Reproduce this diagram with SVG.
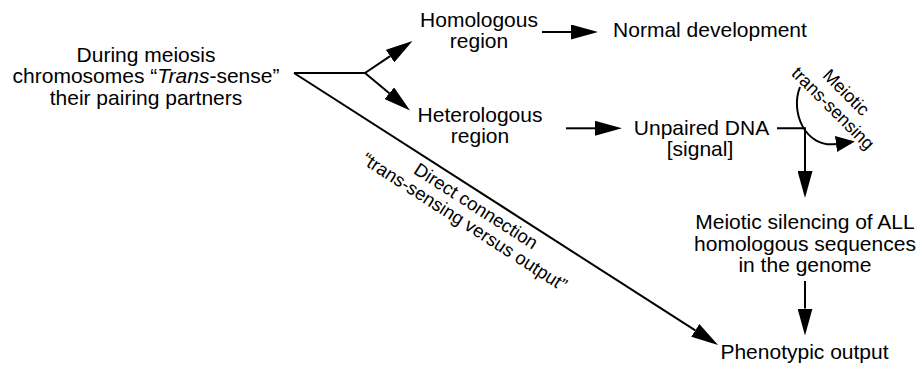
<svg xmlns="http://www.w3.org/2000/svg" width="920" height="369" viewBox="0 0 920 369">
  <style>
    text { font-family: "Liberation Sans", Arial, Helvetica, sans-serif; fill: #000; }
    .n { font-size: 21px; text-anchor: middle; }
    .lbl { font-size: 18.5px; text-anchor: middle; }
    .lbl2 { font-size: 18px; text-anchor: middle; }
    .c { fill: none; stroke: #000; stroke-width: 2; }
  </style>
  <defs>
    <marker id="ah" viewBox="0 0 27 15" refX="0" refY="7.5" markerWidth="27" markerHeight="15" markerUnits="userSpaceOnUse" orient="auto">
      <path d="M0,0 L27,7.5 L0,15 z" fill="#000"/>
    </marker>
    <marker id="ahs" viewBox="0 0 19 16" refX="0" refY="8" markerWidth="19" markerHeight="16" markerUnits="userSpaceOnUse" orient="auto">
      <path d="M0,0 L19,8 L0,16 z" fill="#000"/>
    </marker>
  </defs>
  <rect width="920" height="369" fill="#fff"/>

  <g id="connectors">
    <path class="c" d="M294,73 H365"/>
    <path class="c" d="M365,73 L390.1,56.1" marker-end="url(#ah)"/>
    <path class="c" d="M365,73 L389.3,93.2" marker-end="url(#ah)"/>
    <path class="c" d="M294,73 L695.3,330.4" marker-end="url(#ah)"/>
    <path class="c" d="M542,32 H571" marker-end="url(#ah)"/>
    <path class="c" d="M566,128.3 H595" marker-end="url(#ah)"/>
    <path class="c" d="M777,128.3 H805 V171" marker-end="url(#ah)"/>
    <path class="c" d="M805,281 V308.5" marker-end="url(#ah)"/>
    <path class="c" d="M800,87 C790,112 805,148 836,144" marker-end="url(#ahs)"/>
    <g id="label-direct" transform="translate(294,73) rotate(32.68)">
      <text class="lbl" x="225" y="20">Direct connection</text>
      <text class="lbl" x="224" y="39.5">“trans-sensing versus output”</text>
    </g>
    <g id="label-meiotic" transform="translate(839.5,100.4) rotate(45)">
      <text class="lbl2" x="-1" y="-4.3">Meiotic</text>
      <text class="lbl2" x="1" y="16.2">trans-sensing</text>
    </g>
  </g>

  <g id="node-start">
    <text class="n" x="146" y="61.5">During meiosis</text>
    <text class="n" x="146" y="83">chromosomes “<tspan font-style="italic">Trans</tspan>-sense”</text>
    <text class="n" x="146" y="104.5">their pairing partners</text>
  </g>
  <g id="node-homologous">
    <text class="n" x="479" y="26.7">Homologous</text>
    <text class="n" x="479" y="48.3">region</text>
  </g>
  <g id="node-normal">
    <text class="n" x="710" y="37">Normal development</text>
  </g>
  <g id="node-heterologous">
    <text class="n" x="480" y="121.7">Heterologous</text>
    <text class="n" x="480" y="143.3">region</text>
  </g>
  <g id="node-unpaired">
    <text class="n" x="701.5" y="134.5">Unpaired DNA</text>
    <text class="n" x="700" y="156">[signal]</text>
  </g>
  <g id="node-silencing">
    <text class="n" x="805" y="229.3">Meiotic silencing of ALL</text>
    <text class="n" x="805" y="250.7">homologous sequences</text>
    <text class="n" x="805" y="271.7">in the genome</text>
  </g>
  <g id="node-phenotypic">
    <text class="n" x="804.5" y="359">Phenotypic output</text>
  </g>
</svg>
